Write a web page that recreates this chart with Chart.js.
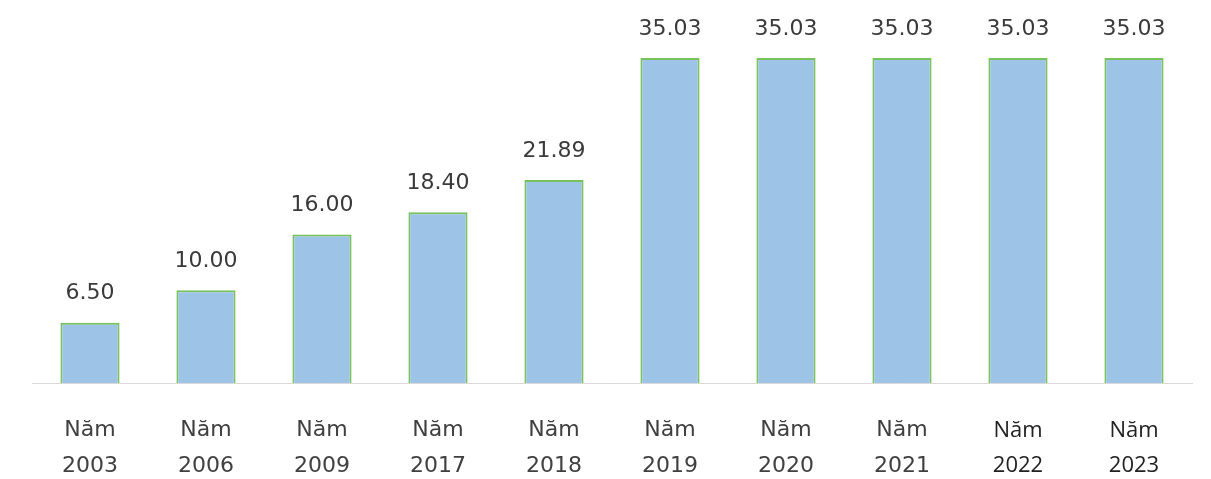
<!DOCTYPE html>
<html>
<head>
<meta charset="utf-8">
<script src="https://cdn.jsdelivr.net/npm/chart.js@4.4.0/dist/chart.umd.min.js"></script>
<style>
  html, body { margin: 0; padding: 0; background: #fff; }
  #wrap { width: 1211px; height: 479px; }
</style>
</head>
<body>
<div id="wrap"><canvas id="barChart"></canvas></div>
<script>
const nam = ['2003', '2006', '2009', '2017', '2018', '2019', '2020', '2021', '2022', '2023'];
const giaTri = [6.50, 10.00, 16.00, 18.40, 21.89, 35.03, 35.03, 35.03, 35.03, 35.03];

const nhanTrenCot = {
  id: 'nhanTrenCot',
  afterDatasetsDraw(chart) {
    const ctx = chart.ctx;
    const meta = chart.getDatasetMeta(0);
    ctx.save();
    ctx.fillStyle = '#3A3A3A';
    ctx.font = '22px "DejaVu Sans", sans-serif';
    ctx.textAlign = 'center';
    ctx.textBaseline = 'bottom';
    meta.data.forEach((bar, i) => {
      ctx.fillText(giaTri[i].toFixed(2), bar.x, bar.y - 18);
    });
    ctx.restore();
  }
};

const ctx = document.getElementById('barChart').getContext('2d');
new Chart(ctx, {
  type: 'bar',
  data: {
    labels: nam.map(n => ['Năm', n]),
    datasets: [{
      data: giaTri,
      backgroundColor: '#9DC3E6',
      borderColor: '#78C25C',
      borderWidth: 2,
      barPercentage: 0.51,
      categoryPercentage: 1
    }]
  },
  options: {
    responsive: true,
    maintainAspectRatio: false,
    animation: false,
    layout: { padding: { top: 12, left: 32, right: 19, bottom: 0 } },
    plugins: { legend: { display: false }, tooltip: { enabled: false } },
    scales: {
      x: {
        afterFit: (scale) => { scale.height = 96; },
        grid: { display: false, drawTicks: false },
        border: { display: true, color: '#D9D9D9', width: 1 },
        ticks: {
          color: (c) => c.index >= 8 ? '#222222' : '#404040',
          padding: 30,
          maxRotation: 0,
          autoSkip: false,
          font: (c) => c.index >= 8
            ? { family: '"Open Sans", sans-serif', size: 22, lineHeight: 1.6 }
            : { family: '"DejaVu Sans", sans-serif', size: 22, lineHeight: 1.6 }
        }
      },
      y: {
        display: false,
        min: 0,
        max: 40
      }
    }
  },
  plugins: [nhanTrenCot]
});
</script>
</body>
</html>
